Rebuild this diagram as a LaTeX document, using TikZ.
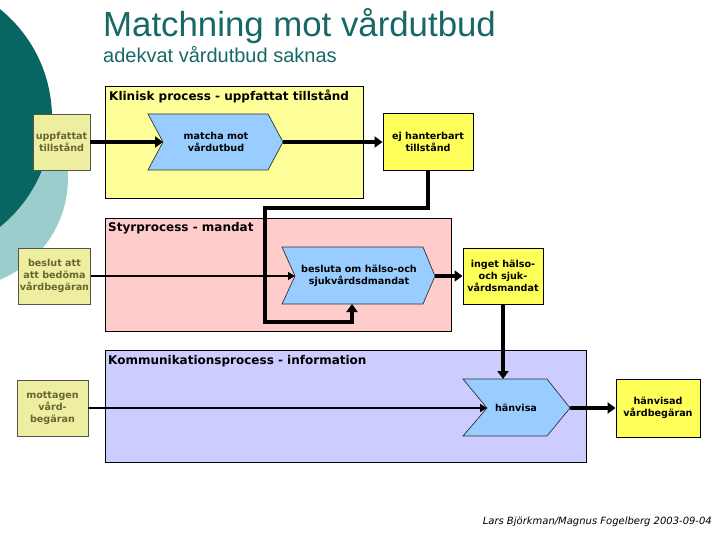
\documentclass[tikz,border=0pt]{standalone}
\usepackage{fontspec}
\setmainfont{DejaVu Sans}
\newfontfamily\titlefont{Liberation Sans}
\usetikzlibrary{arrows.meta}
\definecolor{darkteal}{RGB}{8,102,98}
\definecolor{lightteal}{RGB}{155,205,205}
\definecolor{titlecol}{RGB}{22,104,102}
\definecolor{laneyellow}{RGB}{255,255,153}
\definecolor{lanepink}{RGB}{255,204,204}
\definecolor{laneblue}{RGB}{204,204,255}
\definecolor{chevblue}{RGB}{153,204,255}
\definecolor{outyellow}{RGB}{255,255,90}
\definecolor{inkhaki}{RGB}{238,238,160}
\definecolor{inolive}{RGB}{102,102,51}
\tikzset{
  lanebox/.style={draw=black, line width=0.9pt},
  lanelabel/.style={anchor=base west, inner sep=0pt, font=\fontsize{12}{14}\selectfont\bfseries},
  boxtext/.style={align=center, inner sep=1pt, font=\fontsize{9.6}{12}\selectfont\bfseries},
  inbox/.style={boxtext, draw={rgb,255:red,85;green,85;blue,70}, line width=0.9pt, fill=inkhaki, text=inolive},
  outbox/.style={boxtext, draw=black, line width=0.9pt, fill=outyellow, text=black},
  chev/.style={draw={rgb,255:red,50;green,50;blue,50}, line width=0.7pt, fill=chevblue, line join=miter},
  thickarrow/.style={line width=4pt, line join=miter, -{Triangle[length=8pt,width=11pt]}},
  thinarrow/.style={line width=2pt, -{Triangle[length=7pt,width=8pt]}},
}
\begin{document}
\begin{tikzpicture}[x=1pt,y=-1pt]
\useasboundingbox (0,0) rectangle (720,540);
\clip (0,0) rectangle (720,540);
% background circles
\fill[lightteal] (-42,178) circle [radius=110pt];
\fill[darkteal] (-88,118) circle [radius=140pt];
% title
\node[anchor=base west, inner sep=0pt, text=titlecol, font=\titlefont\fontsize{34.8}{38}\selectfont] (title) at (103,37) {Matchning mot vårdutbud};
\node[anchor=base west, inner sep=0pt, text=titlecol, font=\titlefont\fontsize{20}{24}\selectfont] (subtitle) at (103,63) {adekvat vårdutbud saknas};
% lanes
\draw[lanebox, fill=laneyellow] (105,86) rectangle (363,198);
\draw[lanebox, fill=lanepink] (105,218) rectangle (451,331);
\draw[lanebox, fill=laneblue] (105,350) rectangle (586,462);
\node[lanelabel] (l1) at (109,101) {Klinisk process - uppfattat tillstånd};
\node[lanelabel] (l2) at (108,232) {Styrprocess - mandat};
\node[lanelabel] (l3) at (108,364) {Kommunikationsprocess - information};
% chevrons
\draw[chev] (148,114) -- (268,114) -- (283,142) -- (268,170) -- (148,170) -- (163,142) -- cycle;
\coordinate (c1notch) at (163,142);
\coordinate (c1tip) at (283,142);
\node[boxtext] (c1) at (216,142) {matcha mot\\vårdutbud};
\draw[chev] (282,247) -- (423,247) -- (435,276) -- (423,304) -- (282,304) -- (295,276) -- cycle;
\coordinate (c2notch) at (295,276);
\coordinate (c2tip) at (435,276);
\coordinate (c2bottom) at (352,304);
\node[boxtext] (c2) at (359,276) {besluta om hälso-och\\sjukvårdsdmandat};
\draw[chev] (463,379) -- (547,379) -- (570,408) -- (547,436) -- (463,436) -- (487,408) -- cycle;
\coordinate (c3notch) at (487,408);
\coordinate (c3tip) at (570,408);
\coordinate (c3top) at (503,379);
\node[boxtext] (c3) at (516,408) {hänvisa};
% input boxes
\node[inbox, minimum width=57pt, minimum height=56pt] (in1) at (61.5,142) {uppfattat\\tillstånd};
\node[inbox, minimum width=71pt, minimum height=56pt] (in2) at (54.5,276) {beslut att\\att bedöma\\vårdbegäran};
\node[inbox, minimum width=71pt, minimum height=56pt] (in3) at (52.5,408) {mottagen\\vård-\\begäran};
% output boxes
\node[outbox, minimum width=90pt, minimum height=57pt] (ej) at (428,142) {ej hanterbart\\tillstånd};
\node[outbox, minimum width=80pt, minimum height=56pt] (inget) at (503,276) {inget hälso-\\och sjuk-\\vårdsmandat};
\node[outbox, minimum width=84pt, minimum height=58pt] (hv) at (658,408) {hänvisad\\vårdbegäran};
% connectors
\draw[thinarrow] (in2.east) -- (c2notch);
\draw[thinarrow] (in3.east) -- (c3notch);
\draw[thickarrow] (in1.east) -- (c1notch);
\draw[thickarrow] (c1tip) -- (ej.west);
\draw[thickarrow] (c2tip) -- (inget.west);
\draw[thickarrow] (c3tip) -- (hv.west);
\coordinate (b1) at (428,208);
\coordinate (b2) at (265,208);
\coordinate (b3) at (265,322);
\coordinate (b4) at (352,322);
\draw[thickarrow] (ej.south) -- (b1) -- (b2) -- (b3) -- (b4) -- (c2bottom);
\draw[thickarrow] (inget.south) -- (c3top);
% footer
\node[anchor=base east, inner sep=0pt, font=\fontsize{10}{12}\selectfont\itshape] (footer) at (712,524) {Lars Björkman/Magnus Fogelberg 2003-09-04};
\end{tikzpicture}
\end{document}
